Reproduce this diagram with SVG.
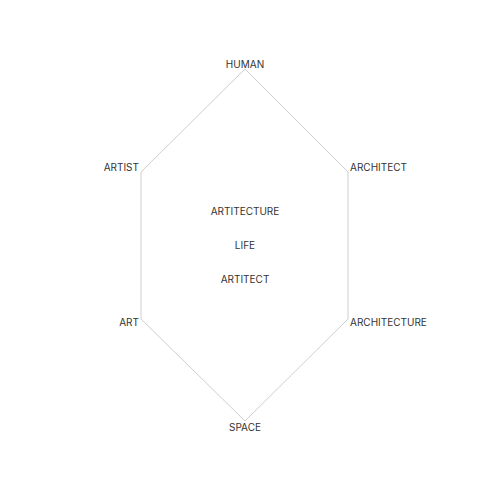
<svg xmlns="http://www.w3.org/2000/svg" width="490" height="490" viewBox="0 0 490 490">
<style>
.edge{fill:none;stroke:#cfcfcf;stroke-width:1}
.lbl{font-family:Inter,"Liberation Sans",sans-serif;font-size:10px;fill:#333}
</style>
<rect width="490" height="490" fill="#fff"/>
<g id="connectors">
<polyline class="edge" points="245,69 141,172 141,319 245,421 348,319 348,172 245,69"/>
</g>
<g id="human"><text class="lbl" x="245" y="67.5" text-anchor="middle">HUMAN</text></g>
<g id="artist"><text class="lbl" x="139" y="171" text-anchor="end">ARTIST</text></g>
<g id="architect"><text class="lbl" x="350" y="171">ARCHITECT</text></g>
<g id="art"><text class="lbl" x="139" y="326" text-anchor="end">ART</text></g>
<g id="architecture"><text class="lbl" x="350" y="326">ARCHITECTURE</text></g>
<g id="space"><text class="lbl" x="245" y="431" text-anchor="middle">SPACE</text></g>
<g id="artitecture"><text class="lbl" x="245" y="215" text-anchor="middle">ARTITECTURE</text></g>
<g id="life"><text class="lbl" x="245" y="249" text-anchor="middle">LIFE</text></g>
<g id="artitect"><text class="lbl" x="245" y="283" text-anchor="middle">ARTITECT</text></g>
</svg>
